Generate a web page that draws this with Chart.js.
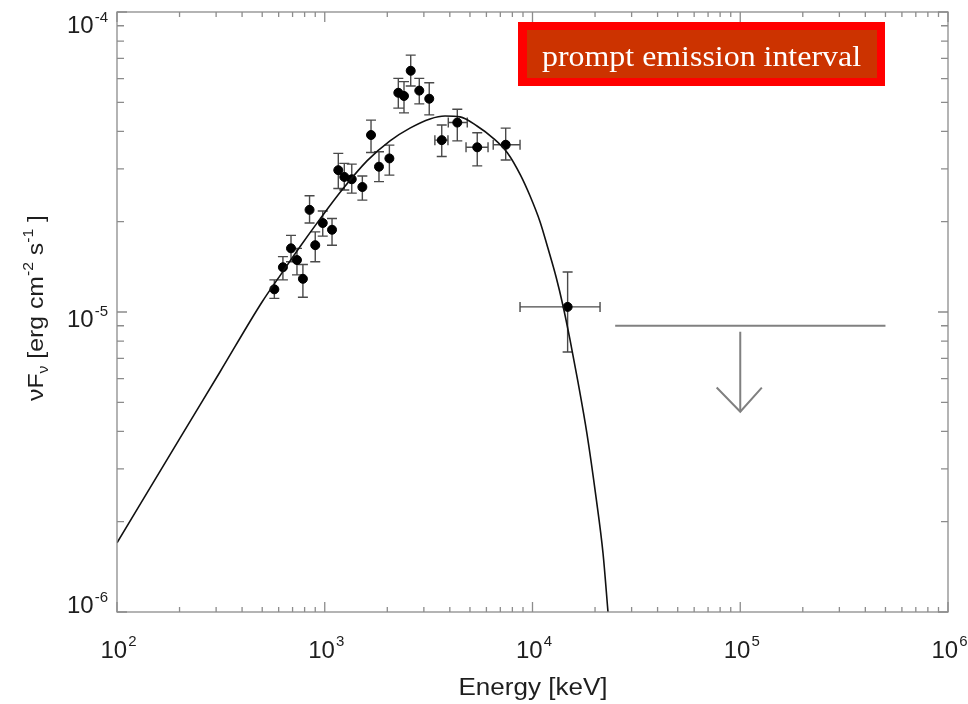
<!DOCTYPE html>
<html>
<head>
<meta charset="utf-8">
<script src="https://cdn.jsdelivr.net/npm/chart.js@4"></script>
<style>
  html, body { margin: 0; padding: 0; background: #fff; }
</style>
</head>
<body>
<canvas id="sed" width="968" height="704"></canvas>
<script>
// measured points (keV, erg cm^-2 s^-1)
const energy = [572, 629, 688, 735, 785, 845, 900, 978, 1084, 1162, 1242, 1349, 1517, 1670, 1824, 2047, 2260, 2407, 2593, 2851, 3184, 3657, 4345, 5420, 7430, 14760];
const flux = [1.19e-5, 1.41e-5, 1.63e-5, 1.49e-5, 1.29e-5, 2.19e-5, 1.67e-5, 1.98e-5, 1.88e-5, 2.97e-5, 2.82e-5, 2.77e-5, 2.61e-5, 3.89e-5, 3.05e-5, 3.25e-5, 5.38e-5, 5.25e-5, 6.37e-5, 5.47e-5, 5.14e-5, 3.74e-5, 4.28e-5, 3.54e-5, 3.61e-5, 1.04e-5];
const fluxHi = [1.28e-5, 1.53e-5, 1.80e-5, 1.63e-5, 1.44e-5, 2.44e-5, 1.85e-5, 2.17e-5, 2.05e-5, 3.38e-5, 3.13e-5, 3.11e-5, 2.84e-5, 4.36e-5, 3.42e-5, 3.60e-5, 6.01e-5, 5.86e-5, 7.18e-5, 6.01e-5, 5.81e-5, 4.20e-5, 4.74e-5, 3.96e-5, 4.10e-5, 1.36e-5];
const fluxLo = [1.11e-5, 1.28e-5, 1.47e-5, 1.33e-5, 1.12e-5, 1.98e-5, 1.47e-5, 1.79e-5, 1.67e-5, 2.58e-5, 2.55e-5, 2.49e-5, 2.36e-5, 3.40e-5, 2.72e-5, 2.86e-5, 4.78e-5, 4.61e-5, 5.67e-5, 4.94e-5, 4.54e-5, 3.30e-5, 3.72e-5, 3.07e-5, 3.21e-5, 7.36e-6];
const energyLo = [null, null, null, null, null, null, null, null, null, null, null, null, null, null, null, null, null, null, null, null, null, 3389, 3932, 4787, 6470, 8710];
const energyHi = [null, null, null, null, null, null, null, null, null, null, null, null, null, null, null, null, null, null, null, null, null, 3918, 4853, 6109, 8710, 21140];

// fitted model curve
const modelEnergy = [100, 201, 313, 499, 622, 760, 948, 1210, 1597, 2061, 2571, 3211, 3792, 4477, 5406, 6457, 7580, 8755, 9724, 10870, 11870, 12980, 14030, 15160, 16560, 18300, 20210, 21850, 23090];
const modelFlux = [1.70e-6, 3.80e-6, 6.31e-6, 1.08e-5, 1.35e-5, 1.65e-5, 2.04e-5, 2.55e-5, 3.19e-5, 3.72e-5, 4.10e-5, 4.40e-5, 4.50e-5, 4.47e-5, 4.17e-5, 3.80e-5, 3.39e-5, 2.86e-5, 2.44e-5, 2.00e-5, 1.63e-5, 1.31e-5, 1.047e-5, 8.07e-6, 5.84e-6, 3.92e-6, 2.42e-6, 1.57e-6, 1.00e-6];

// upper limit (high energy band)
const limitEnergy = [2.5e4, 5e5];
const limitFlux = 9.0e-6;
const arrowEnergy = 1e5;
const arrowFlux = [8.6e-6, 4.65e-6];
const arrowHeadEnergy = [7.7e4, 1e5, 1.27e5];
const arrowHeadFlux = [5.6e-6, 4.65e-6, 5.6e-6];

const xTicks = [1e2, 1e3, 1e4, 1e5, 1e6];
const xExp = ['2', '3', '4', '5', '6'];
const yTicks = [1e-6, 1e-5, 1e-4];
const yExp = ['-6', '-5', '-4'];

const SANS = '"Liberation Sans", Arial, sans-serif';

const errorBars = {
  id: 'errorBars',
  beforeDatasetsDraw(chart) {
    const { ctx, scales: { x, y } } = chart;
    ctx.save();
    ctx.strokeStyle = '#4a4a4a';
    ctx.lineWidth = 1.4;
    ctx.beginPath();
    energy.forEach((e, i) => {
      const px = x.getPixelForValue(e);
      const py = y.getPixelForValue(flux[i]);
      const top = y.getPixelForValue(fluxHi[i]);
      const bot = y.getPixelForValue(fluxLo[i]);
      ctx.moveTo(px, top); ctx.lineTo(px, bot);
      ctx.moveTo(px - 5, top); ctx.lineTo(px + 5, top);
      ctx.moveTo(px - 5, bot); ctx.lineTo(px + 5, bot);
      if (energyLo[i] != null) {
        const l = x.getPixelForValue(energyLo[i]);
        const r = x.getPixelForValue(energyHi[i]);
        ctx.moveTo(l, py); ctx.lineTo(r, py);
        ctx.moveTo(l, py - 5); ctx.lineTo(l, py + 5);
        ctx.moveTo(r, py - 5); ctx.lineTo(r, py + 5);
      }
    });
    ctx.stroke();
    ctx.restore();
  }
};

// text squeezed/stretched to a given width
function fitText(ctx, txt, x, y, w) {
  const m = ctx.measureText(txt).width;
  ctx.save();
  ctx.translate(x, y);
  ctx.scale(w / m, 1);
  ctx.fillText(txt, 0, 0);
  ctx.restore();
}

const frame = {
  id: 'frame',
  afterDraw(chart) {
    const { ctx, chartArea: a, scales: { x, y } } = chart;
    ctx.save();
    ctx.strokeStyle = '#8c8c8c';
    ctx.lineWidth = 1.3;
    ctx.strokeRect(a.left, a.top, a.right - a.left, a.bottom - a.top);

    ctx.beginPath();
    for (let d = 2; d < 6; d++) {
      for (let m = 1; m <= 10; m++) {
        const v = m * Math.pow(10, d);
        const px = x.getPixelForValue(v);
        const len = (m === 1 || m === 10) ? 10 : 5;
        ctx.moveTo(px, a.bottom); ctx.lineTo(px, a.bottom - len);
        ctx.moveTo(px, a.top); ctx.lineTo(px, a.top + len);
      }
    }
    for (let d = -6; d < -4; d++) {
      for (let m = 1; m <= 10; m++) {
        const py = y.getPixelForValue(m * Math.pow(10, d));
        const len = (m === 1 || m === 10) ? 10 : 7;
        ctx.moveTo(a.left, py); ctx.lineTo(a.left + len, py);
        ctx.moveTo(a.right, py); ctx.lineTo(a.right - len, py);
      }
    }
    ctx.stroke();

    // tick labels 10^n
    ctx.fillStyle = '#1e1e1e';
    ctx.textBaseline = 'alphabetic';
    xTicks.forEach((v, i) => {
      const px = x.getPixelForValue(v);
      ctx.font = '24px ' + SANS;
      const w1 = ctx.measureText('10').width;
      ctx.font = '15px ' + SANS;
      const w2 = ctx.measureText(xExp[i]).width;
      const x0 = px - (w1 + w2) / 2 + 1;
      ctx.font = '24px ' + SANS;
      ctx.textAlign = 'left';
      ctx.fillText('10', x0, a.bottom + 46);
      ctx.font = '15px ' + SANS;
      ctx.fillText(xExp[i], x0 + w1 + 1, a.bottom + 34);
    });
    yTicks.forEach((v, i) => {
      const py = y.getPixelForValue(v);
      const base = Math.min(Math.max(py + 15, a.top + 21), a.bottom + 1);
      ctx.font = '15px ' + SANS;
      ctx.textAlign = 'right';
      const w2 = ctx.measureText(yExp[i]).width;
      ctx.fillText(yExp[i], a.left - 9, base - 11);
      ctx.font = '24px ' + SANS;
      ctx.fillText('10', a.left - 10 - w2, base);
    });

    // axis titles
    ctx.textAlign = 'left';
    ctx.font = '23px ' + SANS;
    fitText(ctx, 'Energy [keV]', (a.left + a.right) / 2 - 74, 695, 149);

    ctx.save();
    ctx.translate(43, 308);
    ctx.rotate(-Math.PI / 2);
    const parts = [
      ['\u03BDF', 22, 0], ['\u03BD', 14, 5], [' [erg cm', 22, 0], ['-2', 14, -10],
      [' s', 22, 0], ['-1', 14, -10], [' ]', 22, 0]
    ];
    let total = 0;
    parts.forEach(p => { ctx.font = p[1] + 'px ' + SANS; total += ctx.measureText(p[0]).width; });
    const k = 186 / total;
    ctx.scale(k, 1);
    let cx = -total / 2;
    parts.forEach(p => {
      ctx.font = p[1] + 'px ' + SANS;
      ctx.fillText(p[0], cx, p[2]);
      cx += ctx.measureText(p[0]).width;
    });
    ctx.restore();

    // label box
    ctx.fillStyle = '#ff0000';
    ctx.fillRect(518, 22, 367, 64);
    ctx.fillStyle = '#cc3300';
    ctx.fillRect(527, 30, 350, 48);
    ctx.fillStyle = '#ffffff';
    ctx.font = '29px "Liberation Serif", "Times New Roman", serif';
    fitText(ctx, 'prompt emission interval', 542, 66, 319);
    ctx.restore();
  }
};

const pts = (xs, ys) => xs.map((v, i) => ({ x: v, y: ys[i] }));

new Chart('sed', {
  type: 'scatter',
  data: {
    datasets: [
      {
        label: 'model',
        data: pts(modelEnergy, modelFlux),
        showLine: true,
        pointRadius: 0,
        borderColor: '#111',
        borderWidth: 1.6,
        cubicInterpolationMode: 'monotone'
      },
      {
        label: 'data',
        data: pts(energy, flux),
        pointRadius: 4.5,
        backgroundColor: '#000',
        borderColor: '#000'
      },
      {
        label: 'limit',
        data: pts(limitEnergy, limitEnergy.map(() => limitFlux)),
        showLine: true,
        pointRadius: 0,
        borderColor: '#808080',
        borderWidth: 2
      },
      {
        label: 'arrow',
        data: pts(arrowFlux.map(() => arrowEnergy), arrowFlux),
        showLine: true,
        pointRadius: 0,
        borderColor: '#808080',
        borderWidth: 2
      },
      {
        label: 'head',
        data: pts(arrowHeadEnergy, arrowHeadFlux),
        showLine: true,
        pointRadius: 0,
        borderColor: '#808080',
        borderWidth: 2
      }
    ]
  },
  options: {
    responsive: false,
    animation: false,
    layout: { padding: { left: 117, right: 20, top: 12, bottom: 92 } },
    plugins: { legend: { display: false }, tooltip: { enabled: false } },
    scales: {
      x: { type: 'logarithmic', min: 100, max: 1e6, display: false },
      y: { type: 'logarithmic', min: 1e-6, max: 1e-4, display: false }
    }
  },
  plugins: [errorBars, frame]
});
</script>
</body>
</html>
